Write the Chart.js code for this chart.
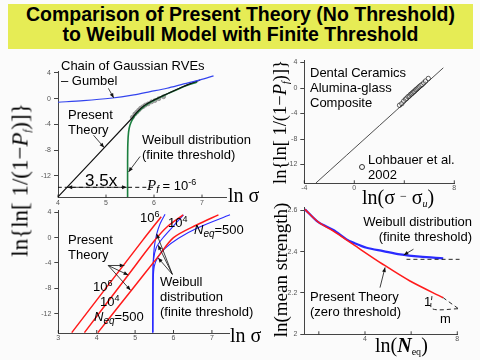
<!DOCTYPE html>
<html>
<head>
<meta charset="utf-8">
<script src="https://cdn.jsdelivr.net/npm/chart.js@4.4.1/dist/chart.umd.min.js"></script>
<style>
  body { margin: 0; width: 480px; height: 360px; background: #fbfbfb; position: relative; overflow: hidden; }
  canvas { position: absolute; left: 0; top: 0; }
  #banner { position: absolute; left: 8px; top: 4px; width: 465px; height: 45px; background: #e6ec55;
            font: bold 19.5px/20px 'Liberation Sans', Arial, sans-serif; text-align: center; color: #000; }
  .t { position: absolute; font: 13px/15px 'Liberation Sans', Arial, sans-serif; color: #000; white-space: nowrap; z-index: 2; }
  .s { position: absolute; font-family: 'Liberation Serif', 'Times New Roman', serif; color: #000; white-space: nowrap; line-height: 20px; z-index: 2; }
  .rot { transform: translate(-50%, -50%) rotate(-90deg); line-height: 1; }
  .t sup, .s sup { font-size: 9px; vertical-align: 5px; line-height: 0; }
  .t sub, .s sub { font-size: 10px; vertical-align: -3px; line-height: 0; }
  .ring { position: absolute; width: 4px; height: 4px; border: 1px solid #333; border-radius: 50%; z-index: 2; }
</style>
</head>
<body>
<div id="banner">Comparison of Present Theory (No Threshold)<br>to Weibull Model with Finite Threshold</div>

<canvas id="c1" width="480" height="360"></canvas>
<canvas id="c2" width="480" height="360"></canvas>
<canvas id="c3" width="480" height="360"></canvas>
<canvas id="c4" width="480" height="360"></canvas>

<!-- panel 1 -->
<div class="t" style="left:61px;top:58px">Chain of Gaussian RVEs<br>– Gumbel</div>
<div class="t" style="left:68px;top:107px">Present<br>Theory</div>
<div class="t" style="left:142px;top:132px">Weibull distribution<br>(finite threshold)</div>
<div class="t" style="left:85px;top:172px;font-size:17px;line-height:17px">3.5x</div>
<div class="t" style="left:147px;top:177px"><i style="font:italic 15px 'Liberation Serif',serif">P</i><sub><i>f</i></sub> = 10<sup>-6</sup></div>
<div class="s" style="left:228px;top:185px;font-size:20px">ln σ</div>
<div class="s rot" style="left:20px;top:180px;font-size:23px">ln{ln[ 1/(1−<i>P</i><sub><i>f</i></sub>)]}</div>

<!-- panel 2 -->
<div class="t" style="left:310px;top:65px">Dental Ceramics<br>Alumina-glass<br>Composite</div>
<div class="t" style="left:368px;top:152px">Lohbauer et al.<br>2002</div>
<div class="ring" style="left:359px;top:164px"></div>
<div class="s" style="left:362px;top:186px;font-size:20px">ln(σ <span style="font-size:12px;vertical-align:4px">−</span> σ<sub><i>u</i></sub>)</div>
<div class="s rot" style="left:280px;top:122px;font-size:18.5px">ln{ln[ 1/(1−<i>P</i><sub><i>f</i></sub>)]}</div>

<!-- panel 3 -->
<div class="t" style="left:68px;top:232px">Present<br>Theory</div>
<div class="t" style="left:93px;top:279px">10<sup>6</sup></div>
<div class="t" style="left:100px;top:294px">10<sup>4</sup></div>
<div class="t" style="left:94px;top:309px"><i>N</i><sub><i>eq</i></sub>=500</div>
<div class="t" style="left:140px;top:210px">10<sup>6</sup></div>
<div class="t" style="left:168px;top:215px">10<sup>4</sup></div>
<div class="t" style="left:194px;top:222px"><i>N</i><sub><i>eq</i></sub>=500</div>
<div class="t" style="left:160px;top:274px">Weibull<br>distribution<br>(finite threshold)</div>
<div class="s" style="left:230px;top:325px;font-size:20px">ln σ</div>

<!-- panel 4 -->
<div class="t" style="right:8px;top:214px;text-align:right">Weibull distribution<br>(finite threshold)</div>
<div class="t" style="left:310px;top:289px">Present Theory<br>(zero threshold)</div>
<div class="t" style="left:424px;top:294px">1</div>
<div class="t" style="left:440px;top:311px">m</div>
<div class="s" style="left:375px;top:335px;font-size:20px">ln(<b><i>N</i></b><sub>eq</sub>)</div>
<div class="s rot" style="left:280px;top:270px;font-size:19px">ln(mean strength)</div>

<script>
// ---- panel 1: chain of Gaussian RVEs ----
const p1GumbelX = [4.0, 4.53, 5.09, 5.58, 5.92, 6.27, 6.62, 6.96, 7.24];
const p1GumbelY = [-0.56, -0.31, 0.06, 0.58, 1.09, 1.62, 2.29, 2.91, 3.54];
const p1TheoryX = [4.0, 5.54, 5.65, 5.8, 6.0, 6.3, 6.6, 6.85, 6.96];
const p1TheoryY = [-15.3, -3.05, -2.05, -1.05, -0.2, 0.85, 1.85, 2.6, 2.9];
const p1WeibullX = [5.45, 5.45, 5.455, 5.47, 5.5, 5.56, 5.65, 5.8, 6.0, 6.3, 6.6, 6.9];
const p1WeibullY = [-15.3, -10, -7, -5.2, -4.1, -3.1, -2.2, -1.15, -0.25, 0.82, 1.82, 2.6];
const p1DataX = [5.55, 5.6, 5.64, 5.68, 5.72, 5.77, 5.82, 5.88, 5.95, 6.02, 6.1, 6.2];
const p1DataY = [-2.9, -2.4, -2.1, -1.8, -1.5, -1.25, -1.0, -0.8, -0.5, -0.3, 0.0, 0.3];
const p1LevelX = [4.0, 6.0];
const p1LevelY = [-13.8, -13.8];
const p1XTicks = [4, 5, 6, 7];
const p1YTicks = [-12, -8, -4, 0, 4];

// ---- panel 2: dental ceramics ----
const p2FitX = [-3.07, 7.12];
const p2FitY = [-14.9, 3.17];
const p2DataX = [3.62, 3.8, 3.95, 4.1, 4.2, 4.3, 4.4, 4.5, 4.58, 4.66, 4.74, 4.82, 4.9, 4.98, 5.06, 5.14, 5.22, 5.32, 5.42, 5.55, 5.7, 5.92];
const p2DataY = [-2.7, -2.45, -2.05, -1.75, -1.6, -1.35, -1.25, -1.0, -0.9, -0.75, -0.6, -0.5, -0.3, -0.2, -0.05, 0.1, 0.25, 0.4, 0.55, 0.8, 1.1, 1.5];
const p2XTicks = [-4, 0, 4, 8];
const p2YTicks = [-12, -8, -4, 0, 4];

// ---- panel 3: different N_eq ----
const p3Red6X = [3.35, 5.2, 5.68];
const p3Red6Y = [-15, -0.4, 3.3];
const p3Red4X = [3.68, 4.82, 5.5, 5.85, 6.25];
const p3Red4Y = [-15, -5.9, -0.5, 1.8, 3.6];
const p3Red500X = [4.03, 4.91, 5.6, 6.0, 6.6, 7.17];
const p3Red500Y = [-15, -8.26, -3.0, 0.0, 2.0, 3.6];
const p3Blue6X = [5.46, 5.46, 5.47, 5.5, 5.56, 5.65, 5.78];
const p3Blue6Y = [-15, -8, -4, -1.5, 0.5, 2.2, 3.7];
const p3Blue4X = [5.46, 5.465, 5.48, 5.55, 5.69, 5.95, 6.26];
const p3Blue4Y = [-15, -7, -3.5, -1.6, -0.3, 1.5, 3.6];
const p3Blue500X = [5.46, 5.47, 5.5, 5.6, 5.78, 6.13, 6.65, 7.47];
const p3Blue500Y = [-15, -7, -4.5, -3.0, -1.7, -0.1, 1.6, 3.6];
const p3XTicks = [3, 4, 5, 6, 7];
const p3YTicks = [-12, -8, -4, 0, 4];

// ---- panel 4: size effect on mean strength ----
const p4TheoryX = [1.4, 1.98, 2.63, 3.49, 4.79, 5.95, 7.39];
const p4TheoryY = [2.605, 2.543, 2.5, 2.435, 2.338, 2.258, 2.177];
const p4WeibullX = [1.4, 1.98, 2.63, 3.2, 3.49, 4.07, 4.79, 5.52, 6.38, 7.39];
const p4WeibullY = [2.605, 2.543, 2.505, 2.46, 2.444, 2.419, 2.403, 2.387, 2.376, 2.368];
const p4AsymX = [5.8, 8.1];
const p4AsymY = [2.363, 2.363];
const p4SlopeX = [7.39, 8.1];
const p4SlopeY = [2.177, 2.12];
const p4LegX = [6.9, 6.9, 8.1];
const p4LegY = [2.185, 2.124, 2.124];
const p4XTicks = [2, 4, 6, 8];
const p4XLabels = [4, 8];
const p4YTicks = [2, 2.2, 2.4, 2.6];

const pts = (xs, ys) => xs.map((x, i) => ({ x: x, y: ys[i] }));

function line(xs, ys, color, width, dash) {
    return {
        data: pts(xs, ys), showLine: true, borderColor: color, borderWidth: width,
        borderDash: dash || [], pointRadius: 0, tension: 0.3, clip: false
    };
}

// arrows: [x1, y1, x2, y2, both] in data units, head at (x2, y2)
function notes(arrows) {
    return {
        id: 'notes',
        afterDatasetsDraw(chart) {
            const { ctx, scales: { x, y }, chartArea } = chart;
            ctx.save();
            ctx.strokeStyle = '#111';
            ctx.fillStyle = '#111';
            ctx.lineWidth = 0.8;
            // small inward ticks on the x axis
            x.ticks.forEach(t => {
                const px = x.getPixelForValue(t.value);
                ctx.beginPath();
                ctx.moveTo(px, chartArea.bottom);
                ctx.lineTo(px, chartArea.bottom - 3);
                ctx.stroke();
            });
            const head = (ax, ay, bx, by) => {
                const a = Math.atan2(by - ay, bx - ax);
                ctx.beginPath();
                ctx.moveTo(bx, by);
                ctx.lineTo(bx - 5 * Math.cos(a - 0.4), by - 5 * Math.sin(a - 0.4));
                ctx.lineTo(bx - 5 * Math.cos(a + 0.4), by - 5 * Math.sin(a + 0.4));
                ctx.closePath();
                ctx.fill();
            };
            arrows.forEach(a => {
                const x1 = x.getPixelForValue(a[0]), y1 = y.getPixelForValue(a[1]);
                const x2 = x.getPixelForValue(a[2]), y2 = y.getPixelForValue(a[3]);
                ctx.beginPath();
                ctx.moveTo(x1, y1);
                ctx.lineTo(x2, y2);
                ctx.stroke();
                head(x1, y1, x2, y2);
                if (a[4]) head(x2, y2, x1, y1);
            });
            ctx.restore();
        }
    };
}

const YW = 30, XH = 10;

function makeChart(id, area, xr, yr, xTicks, yTicks, datasets, arrows, xLabel) {
    const axisFont = { family: "'Liberation Sans', Arial, sans-serif", size: 7 };
    return new Chart(document.getElementById(id), {
        type: 'scatter',
        data: { datasets: datasets },
        options: {
            responsive: false,
            animation: false,
            devicePixelRatio: 1,
            layout: { padding: { left: area[0] - YW, top: area[1], right: 480 - area[2], bottom: 360 - area[3] - XH } },
            plugins: { legend: { display: false }, tooltip: { enabled: false } },
            scales: {
                x: {
                    type: 'linear', min: xr[0], max: xr[1],
                    afterBuildTicks: s => { s.ticks = xTicks.map(v => ({ value: v })); },
                    afterFit: s => { s.height = XH; },
                    grid: { drawOnChartArea: false, drawTicks: false, color: '#444' },
                    border: { color: '#444', width: 1 },
                    ticks: { font: axisFont, color: '#555', padding: 1, maxRotation: 0, autoSkip: false,
                             callback: xLabel || (v => String(v)) }
                },
                y: {
                    type: 'linear', min: yr[0], max: yr[1],
                    afterBuildTicks: s => { s.ticks = yTicks.map(v => ({ value: v })); },
                    afterFit: s => { s.width = YW; },
                    grid: { drawOnChartArea: false, drawTicks: true, tickLength: 4, color: '#444' },
                    border: { color: '#444', width: 1 },
                    ticks: { font: axisFont, color: '#555', padding: 3, autoSkip: false,
                             callback: v => String(v) }
                }
            }
        },
        plugins: [notes(arrows)]
    });
}

// panel 1
makeChart('c1', [58, 71, 226, 197.6], [4, 7.5], [-15.4, 4.3], p1XTicks, p1YTicks, [
    line(p1LevelX, p1LevelY, '#111', 1, [4, 3]),
    line(p1GumbelX, p1GumbelY, '#3344ee', 1.2),
    line(p1TheoryX, p1TheoryY, '#111', 1.2),
    line(p1WeibullX, p1WeibullY, '#1b7f3f', 1.6),
    { data: pts(p1DataX, p1DataY), pointRadius: 2, backgroundColor: '#aaa', borderColor: '#777', borderWidth: 0.6 }
], [
    [5.05, 1.6, 5.16, 0.12],
    [4.74, -5.7, 4.96, -7.6],
    [5.71, -9.0, 5.47, -11.4],
    [5.43, -13.8, 4.2, -13.8, true]
]);

// panel 2
makeChart('c2', [304.3, 60, 454.3, 183.3], [-4, 8], [-14.95, 4.4], p2XTicks, p2YTicks, [
    line(p2FitX, p2FitY, '#222', 0.8),
    { data: pts(p2DataX, p2DataY), pointRadius: 2.2, backgroundColor: 'rgba(255,255,255,0.5)', borderColor: '#333', borderWidth: 0.8 }
], [], v => (v === 4 ? '' : String(v)));

// panel 3
makeChart('c3', [58.3, 210.4, 229.2, 333], [3, 7.45], [-15.06, 4.3], p3XTicks, p3YTicks, [
    line(p3Red6X, p3Red6Y, '#ff1a1a', 1.5),
    line(p3Red4X, p3Red4Y, '#ff1a1a', 1.5),
    line(p3Red500X, p3Red500Y, '#ff1a1a', 1.5),
    line(p3Blue6X, p3Blue6Y, '#2a2aff', 1.1),
    line(p3Blue4X, p3Blue4Y, '#2a2aff', 1.1),
    line(p3Blue500X, p3Blue500Y, '#2a2aff', 1.1)
], [
    [4.3, -4.4, 4.72, -4.4],
    [4.3, -4.4, 4.82, -5.9],
    [4.3, -4.4, 4.88, -8.3],
    [5.97, -5.8, 5.56, 0.6],
    [5.97, -5.8, 5.6, -1.2],
    [5.97, -5.8, 5.6, -3.2]
]);

// panel 4
makeChart('c4', [304.3, 207.3, 457.3, 334.3], [1.37, 8], [2.0, 2.615], p4XTicks, p4YTicks, [
    line(p4AsymX, p4AsymY, '#111', 0.9, [4, 3]),
    line(p4SlopeX, p4SlopeY, '#111', 0.9, [4, 3]),
    line(p4LegX, p4LegY, '#111', 0.9, [4, 3]),
    line(p4TheoryX, p4TheoryY, '#ff1a1a', 1.5),
    line(p4WeibullX, p4WeibullY, '#2a2aff', 2.2)
], [
    [6.1, 2.412, 5.68, 2.384],
    [4.65, 2.226, 4.87, 2.324]
], v => (p4XLabels.includes(v) ? String(v) : ''));
</script>
</body>
</html>
